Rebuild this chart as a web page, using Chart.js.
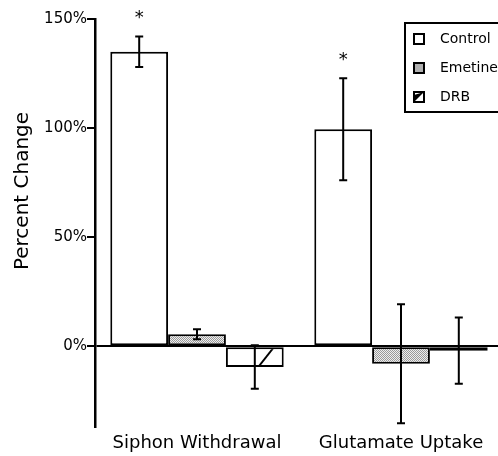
<!DOCTYPE html>
<html>
<head>
<meta charset="utf-8">
<script src="https://cdn.jsdelivr.net/npm/chart.js@4.4.0/dist/chart.umd.min.js"></script>
<style>
  html, body { margin: 0; padding: 0; background: #fff; }
  canvas { display: block; }
</style>
</head>
<body>
<canvas id="chart" width="498" height="456"></canvas>
<script>
const categories = ['Siphon Withdrawal', 'Glutamate Uptake'];
const seriesNames = ['Control', 'Emetine', 'DRB'];
const controlValues = [135, 99.5];
const controlErrors = [7, 23.4];
const emetineValues = [5.5, -8];
const emetineErrors = [2.3, 27.3];
const drbValues = [-9.5, -2];
const drbErrors = [10, 15.2];
const controlStars = ['*', '*'];
const yTicks = [0, 50, 100, 150];
const yTitle = 'Percent Change';

const FONT = "'DejaVu Sans', sans-serif";
const canvas = document.getElementById('chart');
const mainCtx = canvas.getContext('2d');

// grey stipple like the scanned screen tone
function stipple(){
  const c = document.createElement('canvas'); c.width = 2; c.height = 2;
  const g = c.getContext('2d');
  g.fillStyle = '#eeeeee'; g.fillRect(0, 0, 2, 2);
  g.fillStyle = '#9a9a9a'; g.fillRect(0, 0, 1, 1); g.fillRect(1, 1, 1, 1);
  return mainCtx.createPattern(c, 'repeat');
}

// sparse diagonal hatch for DRB
function hatch(){
  const w = 60, h = 76;
  const c = document.createElement('canvas'); c.width = w; c.height = h;
  const g = c.getContext('2d');
  g.fillStyle = '#fff'; g.fillRect(0, 0, w, h);
  g.strokeStyle = '#000'; g.lineWidth = 2;
  [-w, 0, w].forEach(dx => { g.beginPath(); g.moveTo(dx, h); g.lineTo(dx + w, 0); g.stroke(); });
  const p = mainCtx.createPattern(c, 'repeat');
  p.setTransform(new DOMMatrix([1, 0, 0, 1, 8, 0]));
  return p;
}

const fills = ['#ffffff', stipple(), hatch()];

// the plot runs a little past the right edge of the picture
const widenX = {
  id: 'widenX',
  afterLayout(chart){
    const x = chart.scales.x;
    x.right = 503; x.width = x.right - x.left;
    x.configure();
    chart.chartArea.right = 503;
    chart.chartArea.width = chart.chartArea.right - chart.chartArea.left;
  }
};

const errorBars = {
  id: 'errorBars',
  afterDatasetsDraw(chart){
    const ctx = chart.ctx, y = chart.scales.y;
    chart.data.datasets.forEach((ds, di) => {
      const meta = chart.getDatasetMeta(di);
      meta.data.forEach((bar, i) => {
        const v = ds.data[i], e = ds.errors[i];
        const yt = y.getPixelForValue(v + e), yb = y.getPixelForValue(v - e);
        ctx.save();
        ctx.strokeStyle = '#000'; ctx.lineWidth = 2;
        ctx.beginPath();
        ctx.moveTo(bar.x, yt); ctx.lineTo(bar.x, yb);
        ctx.moveTo(bar.x - 4, yt); ctx.lineTo(bar.x + 4, yt);
        ctx.moveTo(bar.x - 4, yb); ctx.lineTo(bar.x + 4, yb);
        ctx.stroke();
        if (ds.stars && ds.stars[i]) {
          ctx.fillStyle = '#000';
          ctx.font = '18px ' + FONT;
          ctx.textAlign = 'center'; ctx.textBaseline = 'alphabetic';
          ctx.fillText(ds.stars[i], bar.x, yt - 13);
        }
        ctx.restore();
      });
    });
  }
};

const extras = {
  id: 'extras',
  afterDraw(chart){
    const ctx = chart.ctx;
    // y title
    ctx.save();
    ctx.translate(23, 191);
    ctx.rotate(-Math.PI / 2);
    ctx.fillStyle = '#000';
    ctx.font = '20px ' + FONT;
    ctx.textAlign = 'center'; ctx.textBaseline = 'middle';
    ctx.fillText(yTitle, 0, 0);
    ctx.restore();

    // boxed legend inside the plot
    const lx = 405, ly = 23, lw = 100, lh = 89, row = 29;
    ctx.save();
    ctx.fillStyle = '#fff'; ctx.fillRect(lx, ly, lw, lh);
    ctx.strokeStyle = '#000'; ctx.lineWidth = 2; ctx.strokeRect(lx, ly, lw, lh);
    chart.data.datasets.forEach((ds, i) => {
      const cy = ly + 16 + i * row;
      const bx = 414, s = 10;
      ctx.fillStyle = i === 1 ? '#b0b0b0' : '#fff';
      ctx.fillRect(bx, cy - s / 2, s, s);
      if (i === 2) {
        ctx.fillStyle = '#000';
        ctx.beginPath(); ctx.moveTo(bx, cy + s / 2); ctx.lineTo(bx + s, cy - s / 2); ctx.lineTo(bx, cy - s / 2 + 3); ctx.closePath(); ctx.fill();
      }
      ctx.lineWidth = 2; ctx.strokeStyle = '#000';
      ctx.strokeRect(bx, cy - s / 2, s, s);
      ctx.fillStyle = '#000';
      ctx.font = '14px ' + FONT;
      ctx.textAlign = 'left'; ctx.textBaseline = 'middle';
      ctx.fillText(ds.label, 440, cy);
    });
    ctx.restore();
  }
};

const common = { borderColor: '#000', borderWidth: 2, borderSkipped: false, barPercentage: 1, categoryPercentage: 0.85 };

new Chart(mainCtx, {
  type: 'bar',
  data: {
    labels: categories,
    datasets: [
      { ...common, label: seriesNames[0], data: controlValues, errors: controlErrors, stars: controlStars, backgroundColor: fills[0] },
      { ...common, label: seriesNames[1], data: emetineValues, errors: emetineErrors, backgroundColor: fills[1] },
      { ...common, label: seriesNames[2], data: drbValues, errors: drbErrors, backgroundColor: fills[2] }
    ]
  },
  options: {
    responsive: false,
    animation: false,
    devicePixelRatio: 1,
    layout: { padding: { top: 19, right: 0, left: 0, bottom: 0 } },
    plugins: { legend: { display: false }, tooltip: { enabled: false } },
    scales: {
      x: {
        afterFit: s => { s.height = 29; },
        border: { display: false },
        grid: { display: false, drawTicks: false },
        ticks: { color: '#000', padding: 6, maxRotation: 0, autoSkip: false, font: { family: FONT, size: 18 } }
      },
      y: {
        min: -37, max: 150,
        afterBuildTicks: s => { s.ticks = yTicks.map(v => ({ value: v })); },
        afterFit: s => { s.width = 95; },
        border: { color: '#000', width: 2.5 },
        grid: {
          color: c => (c.tick && c.tick.value === 0) ? '#000' : 'rgba(0,0,0,0)',
          lineWidth: 2, tickColor: '#000', tickLength: 8, tickWidth: 2
        },
        ticks: { color: '#000', padding: 0, font: { family: FONT, size: 15 }, callback: v => v + '%' }
      }
    }
  },
  plugins: [widenX, errorBars, extras]
});
</script>
</body>
</html>
